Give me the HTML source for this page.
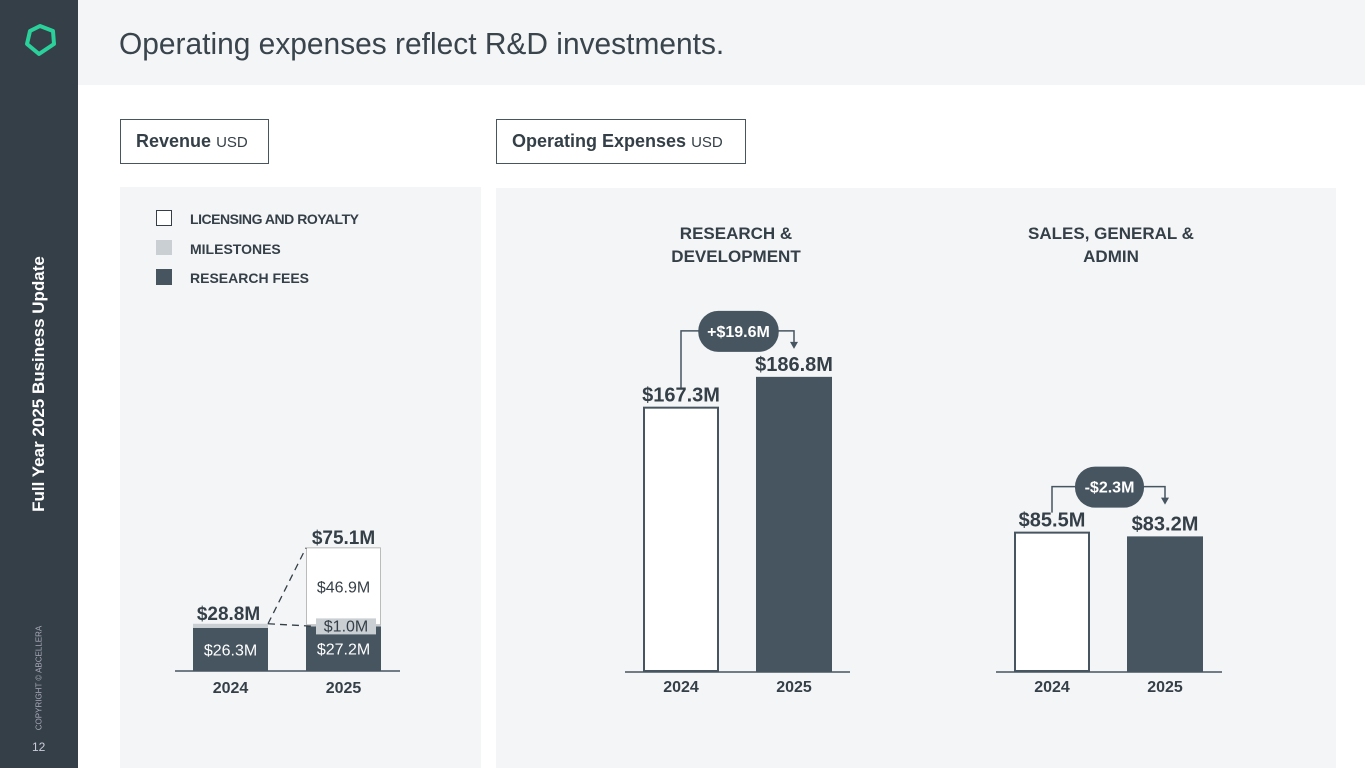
<!DOCTYPE html>
<html><head><meta charset="utf-8"><style>
body{margin:0;width:1365px;height:768px;overflow:hidden;background:#fff;font-family:"Liberation Sans",sans-serif;position:relative}
.abs{position:absolute}
</style></head><body>
<div class="abs" style="left:0;top:0;width:78px;height:768px;background:#343f47"></div>
<svg class="abs" style="left:20px;top:22px" width="40" height="40"><polygon points="20,4 33,9 34,22 19,32 7,22 10,9" fill="none" stroke="#2bd19a" stroke-width="4" stroke-linejoin="round"/></svg>
<div class="abs" style="left:39px;top:384px;transform:translate(-50%,-50%) rotate(-90deg);color:#fff;font-weight:bold;font-size:17px;white-space:nowrap">Full Year 2025 Business Update</div>
<div class="abs" style="left:39px;top:678px;transform:translate(-50%,-50%) rotate(-90deg);color:#aab;font-size:8px;white-space:nowrap">COPYRIGHT © ABCELLERA</div>
<div class="abs" style="left:32px;top:740px;color:#ccd;font-size:12px">12</div>
<div class="abs" style="left:78px;top:0;width:1287px;height:85px;background:#f4f5f6"></div>
<div class="abs" style="left:119px;top:26px;font-size:31px;color:#39444c;transform:scaleX(0.965);transform-origin:left;white-space:nowrap">Operating expenses reflect R&amp;D investments.</div>
<div class="abs" style="left:120px;top:119px;width:149px;height:45px;border:1.5px solid #465560;box-sizing:border-box;font-size:18px;color:#343f47;line-height:43px;padding-left:15px"><b>Revenue</b> <span style="font-size:15px">USD</span></div>
<div class="abs" style="left:496px;top:119px;width:250px;height:45px;border:1.5px solid #465560;box-sizing:border-box;font-size:18px;color:#343f47;line-height:43px;padding-left:15px"><b>Operating Expenses</b> <span style="font-size:15px">USD</span></div>
<div class="abs" style="left:120px;top:187px;width:361px;height:581px;background:#f4f5f7"></div>
<div class="abs" style="left:496px;top:188px;width:840px;height:580px;background:#f4f5f7"></div>
<svg id="ch" class="abs" style="left:0;top:0" width="1365" height="768" font-family="Liberation Sans, sans-serif">
<g font-size="14" font-weight="bold" fill="#343f47">
<rect x="156.5" y="210.5" width="15" height="15" fill="#fff" stroke="#343f47"/><text x="190" y="224" textLength="169">LICENSING AND ROYALTY</text>
<rect x="156" y="240" width="16" height="15" fill="#c9cfd3"/><text x="190" y="254">MILESTONES</text>
<rect x="156" y="269" width="16" height="16" fill="#465560"/><text x="190" y="283">RESEARCH FEES</text>
</g>
<g font-size="17" font-weight="bold" fill="#343f47" text-anchor="middle">
<text x="736" y="239">RESEARCH &amp;</text><text x="736" y="262">DEVELOPMENT</text>
<text x="1111" y="239">SALES, GENERAL &amp;</text><text x="1111" y="262">ADMIN</text>
</g>
</svg>
<script>
const years=["2024","2025"];
const research=[26.3,27.2];
const milestones=[2.5,1.0];
const licensing=[0,46.9];
const revTotals=["$28.8M","$75.1M"];
const rd=[167.3,186.8];
const sga=[85.5,83.2];
const rdDelta="+$19.6M";
const sgaDelta="-$2.3M";
const NS="http://www.w3.org/2000/svg";
const svg=document.getElementById('ch');
const dark="#465560";
function mk(t,a,p){const e=document.createElementNS(NS,t);for(const k in a)e.setAttribute(k,a[k]);(p||svg).appendChild(e);return e;}
function txt(x,y,s,size,w,fill,anchor){const e=mk('text',{x:x,y:y,'font-size':size,'font-weight':w||'normal',fill:fill||'#343f47','text-anchor':anchor||'middle'});e.textContent=s;return e;}
const fmt=v=>"$"+v.toFixed(1)+"M";
const rBase=671,rS=1.64,rX=[193,306],rW=75;
const ry=v=>rBase-v*rS;
mk('line',{x1:175,x2:400,y1:rBase,y2:rBase,stroke:dark,'stroke-width':1.5});
years.forEach((y,i)=>{
  const x=rX[i];
  const b=mk('rect',{x:x,y:ry(research[i]),width:rW,height:research[i]*rS,fill:dark});
  
  
  const top1=research[i]+milestones[i];
  const m=mk('rect',{x:x,y:ry(top1),width:rW,height:milestones[i]*rS,fill:'#c9cfd3'});
  
  
  if(licensing[i]>0){const l=mk('rect',{x:x+0.5,y:ry(top1+licensing[i]),width:rW-1,height:licensing[i]*rS,fill:'#fff',stroke:'#bbb'});
  
  
  txt(x+rW/2,ry(top1+licensing[i]/2)+6,fmt(licensing[i]),16,'normal','#343f47');}
  txt(x+rW/2,ry(research[i]/2)+6,fmt(research[i]),16,'normal','#fff');
  const tot=top1+licensing[i];
  txt(x+rW/2-(i?0:2),ry(tot)-4,revTotals[i],19,'bold');
  const yl=txt(x+rW/2,693,y,16,'bold');
  
  
});
mk('rect',{x:316,y:ry(research[1])-8,width:60,height:16,fill:'#c9cfd3'});
txt(346,ry(research[1])+5,fmt(milestones[1]),16,'normal','#343f47');
mk('line',{x1:rX[0]+rW,y1:ry(research[0]+milestones[0]),x2:rX[1],y2:ry(research[1]+milestones[1]+licensing[1]),stroke:'#343f47','stroke-dasharray':'7,5','stroke-width':1.3});
mk('line',{x1:rX[0]+rW,y1:ry(research[0]+milestones[0]),x2:rX[1]+10,y2:ry(research[1]),stroke:'#343f47','stroke-dasharray':'7,5','stroke-width':1.3});
function opex(vals,xs,ax1,ax2,scale,delta,name){
  const base=672,W=76,yy=v=>base-v*scale;
  mk('line',{x1:ax1,x2:ax2,y1:base,y2:base,stroke:dark,'stroke-width':1.5});
  vals.forEach((v,i)=>{
    const r=mk('rect',i?{x:xs[i],y:yy(v),width:W,height:v*scale,fill:dark}:{x:xs[i]+1,y:yy(v),width:W-2,height:v*scale-1,fill:'#fff',stroke:dark,'stroke-width':2});
    
    
    txt(xs[i]+W/2,yy(v)-6,fmt(v),20,'bold');
    const yl=txt(xs[i]+W/2,692,years[i],16,'bold');
    
    
  });
  const top=Math.min(yy(vals[0]),yy(vals[1]));
  const py=top-66, cx=(xs[0]+xs[1]+W)/2+1, pw=delta.length*11.5;
  const lx=xs[0]+W/2, rx=xs[1]+W/2;
  mk('polyline',{points:`${lx},${yy(vals[0])-20} ${lx},${py+20} ${rx},${py+20} ${rx},${py+34}`,fill:'none',stroke:dark,'stroke-width':1.5});
  mk('polygon',{points:`${rx-4},${py+31} ${rx+4},${py+31} ${rx},${py+38}`,fill:dark});
  const p=mk('rect',{x:cx-pw/2,y:py,width:pw,height:41,rx:20,fill:dark});
  
  
  txt(cx,py+26,delta,16,'bold','#fff');
}
opex(rd,[643,756],625,850,1.58,rdDelta,'rd');
opex(sga,[1014,1127],996,1222,1.63,sgaDelta,'sga');
</script>
</body></html>
